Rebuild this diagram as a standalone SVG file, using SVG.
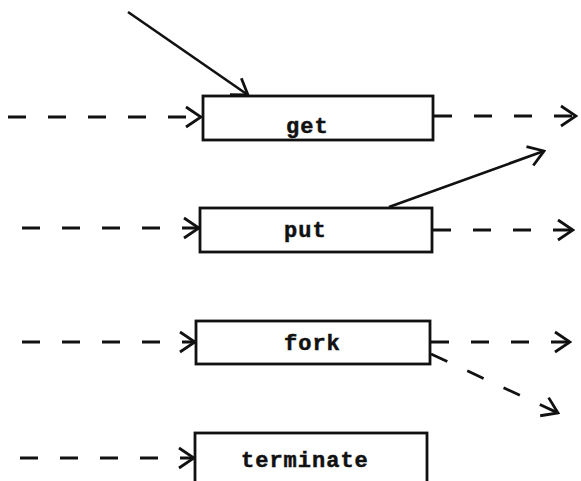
<svg xmlns="http://www.w3.org/2000/svg" width="581" height="481" viewBox="0 0 581 481">
<style>
.box{fill:#fff;stroke:#111;stroke-width:2.8}
.lbl{font-family:"Liberation Mono","DejaVu Sans Mono",monospace;font-weight:bold;font-size:22px;letter-spacing:1px;fill:#111;stroke:#111;stroke-width:0.5}
.solid{stroke:#111;stroke-width:2.6;fill:none;marker-end:url(#ah)}
.dash{stroke:#111;stroke-width:2.8;fill:none;stroke-dasharray:18 22;marker-end:url(#ah)}
</style>
<defs>
<marker id="ah" viewBox="-18 -12 20 24" markerWidth="20" markerHeight="24" refX="0" refY="0" orient="auto" markerUnits="userSpaceOnUse">
<path d="M-15,-10 L0,0 L-15,10" fill="none" stroke="#111" stroke-width="2.8" stroke-dasharray="none"/>
</marker>
</defs>
<rect width="581" height="481" fill="#fff"/>
<g id="connectors">
<line class="solid" x1="128" y1="12" x2="248" y2="95"/>
<line class="dash" x1="8" y1="117" x2="201" y2="117"/>
<line class="dash" x1="434" y1="116" x2="576" y2="116"/>
<line class="solid" x1="389" y1="207" x2="544" y2="151"/>
<line class="dash" x1="22" y1="228" x2="199" y2="228"/>
<line class="dash" x1="433" y1="230" x2="573" y2="230"/>
<line class="dash" x1="22" y1="342" x2="195" y2="342"/>
<line class="dash" x1="431" y1="342" x2="570" y2="342"/>
<line class="dash" x1="431" y1="354" x2="558" y2="413"/>
<line class="dash" x1="20" y1="458" x2="194" y2="458"/>
</g>
<g id="get">
<rect class="box" x="203" y="96" width="230" height="44"/>
<text class="lbl" x="286" y="133">get</text>
</g>
<g id="put">
<rect class="box" x="200" y="208" width="232" height="44"/>
<text class="lbl" x="284" y="237">put</text>
</g>
<g id="fork">
<rect class="box" x="196" y="321" width="234" height="43"/>
<text class="lbl" x="284" y="350">fork</text>
</g>
<g id="terminate">
<rect class="box" x="195" y="433" width="232" height="70"/>
<text class="lbl" x="241" y="467">terminate</text>
</g>
</svg>
